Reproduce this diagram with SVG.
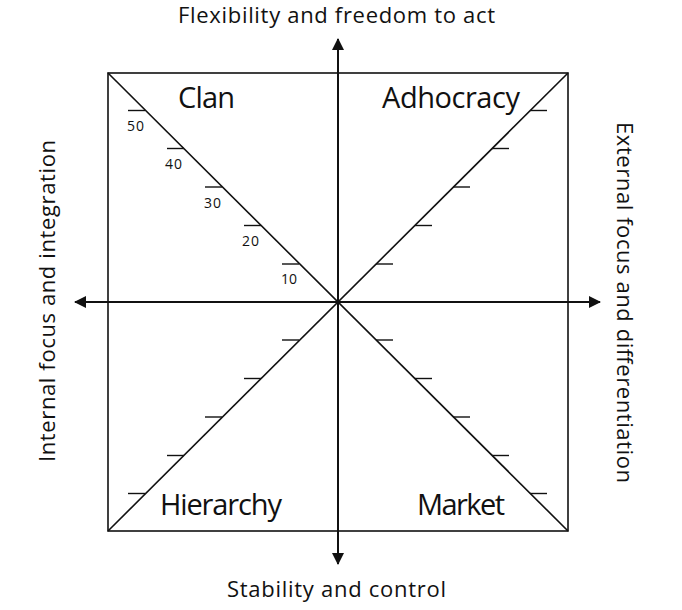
<svg xmlns="http://www.w3.org/2000/svg" width="682" height="610" viewBox="0 0 682 610">
<style>
.ln{stroke:#111;stroke-width:1.6;fill:none}
.ax{stroke:#111;stroke-width:2;fill:none}
.tk{stroke:#111;stroke-width:1.4}
text{font-family:"Open Sans","Liberation Sans",sans-serif;fill:#111}
.q{font-size:29px}
.a{font-size:22px}
.n{font-size:14px}
</style>
<defs>
<marker id="arr" viewBox="0 0 12 12" refX="11" refY="6" markerWidth="12" markerHeight="12" markerUnits="userSpaceOnUse" orient="auto">
<path d="M0,0 L12,6 L0,12 Z" fill="#111"/>
</marker>
</defs>
<rect width="682" height="610" fill="#fff"/>
<g id="frame">
<rect class="ln" x="108" y="73" width="460" height="458"/>
<line class="ln" x1="108" y1="73" x2="568" y2="531"/>
<line class="ln" x1="568" y1="73" x2="108" y2="531"/>
</g>
<g id="connectors">
<line class="ax" x1="338" y1="302" x2="338" y2="39" marker-end="url(#arr)"/>
<line class="ax" x1="338" y1="302" x2="338" y2="564" marker-end="url(#arr)"/>
<line class="ax" x1="338" y1="302" x2="75" y2="302" marker-end="url(#arr)"/>
<line class="ax" x1="338" y1="302" x2="600" y2="302" marker-end="url(#arr)"/>
</g>
<g id="ticks">
<line class="tk" x1="282" y1="264" x2="299" y2="264"/>
<line class="tk" x1="244" y1="225.5" x2="261" y2="225.5"/>
<line class="tk" x1="205" y1="187" x2="222" y2="187"/>
<line class="tk" x1="167" y1="148.5" x2="184" y2="148.5"/>
<line class="tk" x1="128" y1="110.5" x2="145" y2="110.5"/>
<line class="tk" x1="376" y1="264" x2="393" y2="264"/>
<line class="tk" x1="415" y1="225.5" x2="432" y2="225.5"/>
<line class="tk" x1="453" y1="187" x2="470" y2="187"/>
<line class="tk" x1="492" y1="148.5" x2="509" y2="148.5"/>
<line class="tk" x1="530" y1="110.5" x2="547" y2="110.5"/>
<line class="tk" x1="282" y1="340" x2="299" y2="340"/>
<line class="tk" x1="244" y1="378.5" x2="261" y2="378.5"/>
<line class="tk" x1="205" y1="417" x2="222" y2="417"/>
<line class="tk" x1="167" y1="455.5" x2="184" y2="455.5"/>
<line class="tk" x1="128" y1="493.5" x2="145" y2="493.5"/>
<line class="tk" x1="376" y1="340" x2="393" y2="340"/>
<line class="tk" x1="415" y1="378.5" x2="432" y2="378.5"/>
<line class="tk" x1="453" y1="417" x2="470" y2="417"/>
<line class="tk" x1="492" y1="455.5" x2="509" y2="455.5"/>
<line class="tk" x1="530" y1="493.5" x2="547" y2="493.5"/>
</g>
<g id="scale">
<text class="n" x="127" y="131" textLength="17">50</text>
<text class="n" x="165" y="169" textLength="17">40</text>
<text class="n" x="204" y="207.5" textLength="17">30</text>
<text class="n" x="242" y="246" textLength="17">20</text>
<text class="n" x="281" y="284" textLength="16">10</text>
</g>
<g id="clan"><text class="q" x="178" y="108" textLength="57">Clan</text></g>
<g id="adhocracy"><text class="q" x="382" y="108" textLength="138">Adhocracy</text></g>
<g id="hierarchy"><text class="q" x="160" y="515" textLength="122">Hierarchy</text></g>
<g id="market"><text class="q" x="417" y="515" textLength="88">Market</text></g>
<g id="top-label"><text class="a" x="178" y="23" textLength="317">Flexibility and freedom to act</text></g>
<g id="bottom-label"><text class="a" x="227" y="597" textLength="219">Stability and control</text></g>
<g id="left-label"><text class="a" transform="translate(55,462) rotate(-90)" x="0" y="0" textLength="322">Internal focus and integration</text></g>
<g id="right-label"><text class="a" transform="translate(617,122) rotate(90)" x="0" y="0" textLength="361">External focus and differentiation</text></g>
</svg>
